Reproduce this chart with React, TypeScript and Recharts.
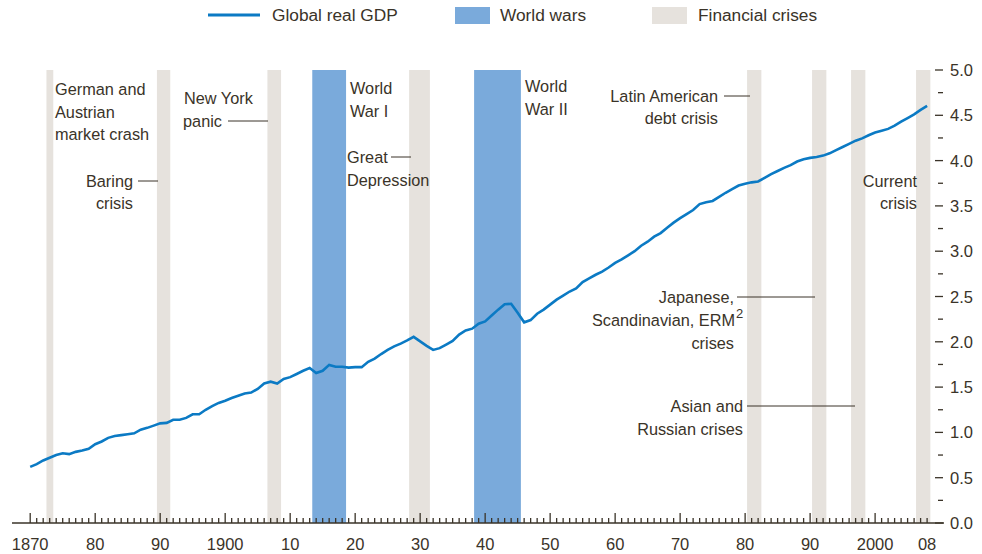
import {
  ComposedChart,
  Line,
  XAxis,
  YAxis,
  ReferenceArea,
} from "recharts";

// Global real GDP, 1870–2008 (right axis)
const START_YEAR = 1870;
const gdp = [
  0.62, 0.65, 0.69, 0.72, 0.75, 0.77, 0.76, 0.785, 0.8, 0.82, // 1870s
  0.87, 0.9, 0.94, 0.96, 0.97, 0.98, 0.99, 1.03, 1.05, 1.075, // 1880s
  1.1, 1.105, 1.14, 1.14, 1.16, 1.2, 1.2, 1.25, 1.29, 1.325, // 1890s
  1.35, 1.38, 1.405, 1.43, 1.44, 1.48, 1.54, 1.56, 1.54, 1.59, // 1900s
  1.61, 1.645, 1.68, 1.71, 1.655, 1.68, 1.745, 1.725, 1.725, 1.715, // 1910s
  1.72, 1.72, 1.78, 1.815, 1.865, 1.91, 1.95, 1.98, 2.015, 2.055, // 1920s
  2.005, 1.955, 1.91, 1.93, 1.97, 2.01, 2.08, 2.125, 2.145, 2.2, // 1930s
  2.225, 2.29, 2.355, 2.415, 2.42, 2.32, 2.215, 2.24, 2.31, 2.355, // 1940s
  2.41, 2.465, 2.51, 2.555, 2.59, 2.66, 2.7, 2.74, 2.775, 2.82, // 1950s
  2.87, 2.91, 2.955, 3.0, 3.06, 3.105, 3.16, 3.2, 3.26, 3.315, // 1960s
  3.365, 3.41, 3.455, 3.52, 3.54, 3.555, 3.6, 3.645, 3.685, 3.725, // 1970s
  3.745, 3.76, 3.77, 3.81, 3.85, 3.885, 3.92, 3.95, 3.99, 4.015, // 1980s
  4.03, 4.04, 4.055, 4.08, 4.115, 4.15, 4.185, 4.22, 4.245, 4.28, // 1990s
  4.31, 4.33, 4.35, 4.385, 4.43, 4.47, 4.51, 4.56, 4.605, // 2000s
];

// shaded periods (years)
const crisisStart = [1872.5, 1889.5, 1906.5, 1928.3, 1980.3, 1990.3, 1996.3, 2006.3];
const crisisEnd = [1873.55, 1891.55, 1908.6, 1931.5, 1982.5, 1992.5, 1998.5, 2008.5];
const warStart = [1913.4, 1938.3];
const warEnd = [1918.6, 1945.5];

const yTicks = [0, 0.25, 0.5, 0.75, 1, 1.25, 1.5, 1.75, 2, 2.25, 2.5, 2.75, 3, 3.25, 3.5, 3.75, 4, 4.25, 4.5, 4.75, 5];
const yearTicks: number[] = [];
for (let y = 1870; y <= 2008; y++) yearTicks.push(y);
const yearLabels: Record<number, string> = {
  1870: "1870", 1880: "80", 1890: "90", 1900: "1900", 1910: "10", 1920: "20",
  1930: "30", 1940: "40", 1950: "50", 1960: "60", 1970: "70", 1980: "80",
  1990: "90", 2000: "2000", 2008: "08",
};

const data = gdp.map((v, i) => ({ year: START_YEAR + i, gdp: v }));

const COLORS = {
  line: "#0b7ac4",
  war: "#7aaadb",
  crisis: "#e6e2dd",
  ink: "#3a3328",
};
const FONT = "'Liberation Sans', Arial, sans-serif";

const XTick = ({ x, y, payload }: any) => {
  const v = payload.value;
  const major = v % 10 === 0;
  const label = yearLabels[v];
  return (
    <g>
      <line x1={x} x2={x} y1={y} y2={y - (major ? 10 : 5)} stroke={COLORS.ink} strokeWidth={1.3} />
      {label && (
        <text x={x} y={y + 21} textAnchor="middle" dominantBaseline="central" fontSize={16.5} fill={COLORS.ink} fontFamily={FONT}>
          {label}
        </text>
      )}
    </g>
  );
};

const RightTick = ({ x, y, payload }: any) => {
  const v = payload.value;
  const major = Math.abs(v * 2 - Math.round(v * 2)) < 1e-6;
  return (
    <g>
      <line x1={major ? x - 9 : x - 6} x2={x - 1} y1={y} y2={y} stroke={COLORS.ink} strokeWidth={1.3} />
      {major && (
        <text x={x + 6} y={y} textAnchor="start" dominantBaseline="central" fontSize={16.5} fill={COLORS.ink} fontFamily={FONT}>
          {v.toFixed(1)}
        </text>
      )}
    </g>
  );
};

const LeftTick = ({ x, y, payload }: any) => {
  const v = payload.value;
  if (v === 0) return <g />;
  const major = Math.abs(v * 2 - Math.round(v * 2)) < 1e-6;
  return <line x1={x} x2={x + (major ? 10 : 5)} y1={y} y2={y} stroke={COLORS.ink} strokeWidth={1.3} />;
};

// annotation text: [text, x, y, anchor]
type Note = [string, number, number, "start" | "end" | "middle"];
const notes: Note[] = [
  ["German and", 55, 89, "start"],
  ["Austrian", 55, 112, "start"],
  ["market crash", 55, 134, "start"],
  ["Baring", 133, 181, "end"],
  ["crisis", 133, 203, "end"],
  ["New York", 184, 98, "start"],
  ["panic", 222, 121, "end"],
  ["World", 350, 88, "start"],
  ["War I", 350, 111, "start"],
  ["Great", 347, 157, "start"],
  ["Depression", 347, 180, "start"],
  ["World", 525, 86, "start"],
  ["War II", 525, 109, "start"],
  ["Latin American", 718, 96, "end"],
  ["debt crisis", 718, 118, "end"],
  ["Current", 917, 181, "end"],
  ["crisis", 917, 203, "end"],
  ["Japanese,", 734, 297, "end"],
  ["crises", 734, 343, "end"],
  ["Asian and", 743, 406, "end"],
  ["Russian crises", 743, 429, "end"],
];
// leader lines: [x1, x2, y]
const leaders = [
  [138, 158, 181],
  [228, 268, 121],
  [391, 411, 157],
  [724, 750, 96],
  [737, 815, 297],
  [747, 855, 406],
];

function Overlay() {
  return (
    <svg width={982} height={554} style={{ position: "absolute", left: 0, top: 0, pointerEvents: "none" }}>
      {/* legend */}
      <line x1={208} x2={260} y1={15} y2={15} stroke={COLORS.line} strokeWidth={3} />
      <text x={272} y={15} dominantBaseline="central" fontSize={17.3} fill={COLORS.ink} fontFamily={FONT}>Global real GDP</text>
      <rect x={455} y={7} width={35} height={17} fill={COLORS.war} />
      <text x={500} y={15} dominantBaseline="central" fontSize={17.3} fill={COLORS.ink} fontFamily={FONT}>World wars</text>
      <rect x={652} y={7} width={35} height={17} fill={COLORS.crisis} />
      <text x={698} y={15} dominantBaseline="central" fontSize={17.3} fill={COLORS.ink} fontFamily={FONT}>Financial crises</text>

      {notes.map(([t, x, y, a], i) => (
        <text key={i} x={x} y={y} textAnchor={a} dominantBaseline="central" fontSize={16.3} fill={COLORS.ink} fontFamily={FONT}>
          {t}
        </text>
      ))}
      <text x={735} y={320} textAnchor="end" dominantBaseline="central" fontSize={16.3} fill={COLORS.ink} fontFamily={FONT}>
        Scandinavian, ERM
      </text>
      <text x={736} y={313} textAnchor="start" dominantBaseline="central" fontSize={13} fill={COLORS.ink} fontFamily={FONT}>
        2
      </text>
      {leaders.map(([x1, x2, y], i) => (
        <line key={i} x1={x1} x2={x2} y1={y} y2={y} stroke={COLORS.ink} strokeWidth={1} />
      ))}
    </svg>
  );
}

export default function App() {
  return (
    <div style={{ position: "absolute", left: 0, top: 0, width: 982, height: 554, background: "#fff", fontFamily: FONT }}>
      <ComposedChart width={982} height={554} data={data} margin={{ top: 70, right: 0, bottom: 0, left: 0 }}>
        <XAxis
          dataKey="year"
          type="number"
          domain={[1867.2, 2010.6]}
          allowDataOverflow
          ticks={yearTicks}
          interval={0}
          tick={<XTick />}
          tickSize={0}
          tickMargin={0}
          tickLine={false}
          axisLine={{ stroke: COLORS.ink, strokeWidth: 1.5 }}
          height={31}
        />
        <YAxis
          yAxisId="l"
          orientation="left"
          domain={[0, 5]}
          ticks={yTicks}
          interval={0}
          width={12}
          tick={<LeftTick />}
          tickSize={0}
          tickMargin={0}
          tickLine={false}
          axisLine={false}
        />
        <YAxis
          yAxisId="r"
          orientation="right"
          domain={[0, 5]}
          ticks={yTicks}
          interval={0}
          width={38}
          tick={<RightTick />}
          tickSize={0}
          tickMargin={0}
          tickLine={false}
          axisLine={false}
        />
        {crisisStart.map((s, i) => (
          <ReferenceArea key={"c" + i} yAxisId="r" x1={s} x2={crisisEnd[i]} y1={0} y2={5} fill={COLORS.crisis} fillOpacity={1} stroke="none" />
        ))}
        {warStart.map((s, i) => (
          <ReferenceArea key={"w" + i} yAxisId="r" x1={s} x2={warEnd[i]} y1={0} y2={5} fill={COLORS.war} fillOpacity={1} stroke="none" />
        ))}
        <Line
          yAxisId="r"
          type="linear"
          dataKey="gdp"
          stroke={COLORS.line}
          strokeWidth={2.6}
          dot={false}
          isAnimationActive={false}
        />
      </ComposedChart>
      <Overlay />
    </div>
  );
}
